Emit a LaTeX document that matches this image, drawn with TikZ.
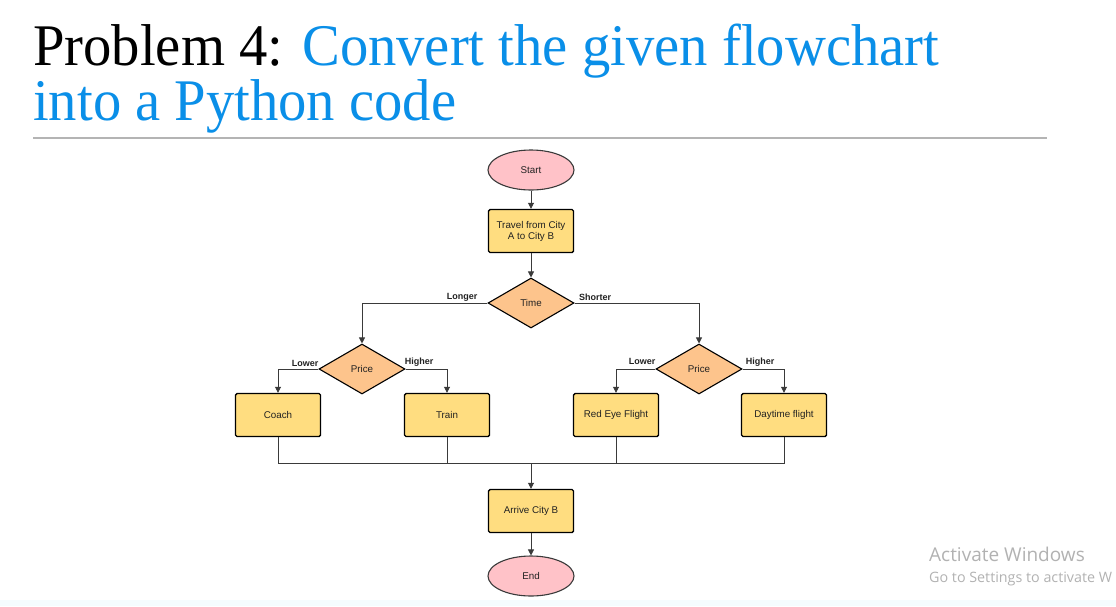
\documentclass[tikz,border=0pt]{standalone}
\usepackage{fontspec}
\setmainfont{Liberation Serif}
\newfontfamily\flowfont{Liberation Sans}
\newfontfamily\notefont{Open Sans}
\usetikzlibrary{shapes.geometric,arrows.meta}
\definecolor{titleblue}{HTML}{0A8FE8}
\definecolor{rulegray}{HTML}{B4B4B4}
\definecolor{termfill}{HTML}{FFC2C8}
\definecolor{procfill}{HTML}{FFDD80}
\definecolor{decfill}{HTML}{FDC48C}
\definecolor{edgegray}{HTML}{3A3A3A}
\definecolor{labeltext}{HTML}{222222}
\tikzset{
  x=1pt, y=-1pt,
  every node/.style={font=\flowfont\fontsize{9.8}{11}\selectfont, text=labeltext},
  terminal/.style={ellipse, draw=edgegray, line width=1.1pt, fill=termfill,
    minimum width=86pt, minimum height=40pt, inner sep=0pt},
  process/.style={rectangle, rounded corners=1.5pt, draw=black, line width=1.4pt, fill=procfill,
    minimum width=85pt, minimum height=43pt, inner sep=0pt, align=center},
  decision/.style={diamond, draw=black, line width=1.1pt, fill=decfill, aspect=1.72,
    minimum width=86pt, minimum height=50pt, inner sep=0pt},
  flow/.style={draw=edgegray, line width=0.8pt},
  arrow/.style={flow, -{Triangle[length=6pt,width=6pt]}},
  edgelabel/.style={font=\flowfont\bfseries\fontsize{9}{10}\selectfont, text=labeltext}
}
\begin{document}
\begin{tikzpicture}
\useasboundingbox (0,0) rectangle (1116,606);
\fill[white] (0,0) rectangle (1116,606);
\fill[cyan!4] (0,600) rectangle (1116,606);

% heading
\node[anchor=base west, inner sep=0pt, font=\fontsize{59}{64}\selectfont, text=black] (title1) at (33,65)
  {\scalebox{0.96}[1]{Problem 4: \textcolor{titleblue}{Convert the given flowchart}}};
\node[anchor=base west, inner sep=0pt, font=\fontsize{59}{64}\selectfont, text=titleblue] (title2) at (33,120)
  {\scalebox{0.96}[1]{into a Python code}};
\draw[rulegray, line width=1.3pt] (33,138) -- (1047,138);

% flowchart nodes
\node[terminal] (start) at (531,170) {Start};
\node[process] (travel) at (531,231) {Travel from City\\A to City B};
\node[decision] (time) at (531,303) {Time};
\node[decision] (priceL) at (362,369) {Price};
\node[decision] (priceR) at (699,369) {Price};
\node[process] (coach) at (278,415) {Coach};
\node[process] (train) at (447,415) {Train};
\node[process] (redeye) at (616,415) {Red Eye Flight};
\node[process] (daytime) at (784,415) {Daytime flight};
\node[process] (arrive) at (531,511) {Arrive City B};
\node[terminal] (end) at (531,576) {End};
\coordinate (merge) at (531,463);

% connectors
\draw[arrow] (start) -- (travel);
\draw[arrow] (travel) -- (time);
\draw[arrow] (time.west) -| (priceL.north);
\draw[arrow] (time.east) -| (priceR.north);
\draw[arrow] (priceL.west) -| (coach.north);
\draw[arrow] (priceL.east) -| (train.north);
\draw[arrow] (priceR.west) -| (redeye.north);
\draw[arrow] (priceR.east) -| (daytime.north);
\draw[flow] (coach.south) |- (merge);
\draw[flow] (daytime.south) |- (merge);
\draw[flow] (train.south) -- (train.south |- merge);
\draw[flow] (redeye.south) -- (redeye.south |- merge);
\draw[arrow] (merge) -- (arrive);
\draw[arrow] (arrive) -- (end);

% branch labels
\node[edgelabel] (longer) at (462,297) {Longer};
\node[edgelabel] (shorter) at (595,297) {Shorter};
\node[edgelabel] (lowerL) at (305,363) {Lower};
\node[edgelabel] (higherL) at (419,362) {Higher};
\node[edgelabel] (lowerR) at (642,361) {Lower};
\node[edgelabel] (higherR) at (760,362) {Higher};

% system notice
\node[anchor=base west, inner sep=0pt, font=\notefont\fontsize{19}{22}\selectfont, text=black!30] (note1) at (929,561) {Activate Windows};
\node[anchor=base west, inner sep=0pt, font=\notefont\fontsize{14.3}{16}\selectfont, text=black!30] (note2) at (929,582) {Go to Settings to activate W};
\end{tikzpicture}
\end{document}
